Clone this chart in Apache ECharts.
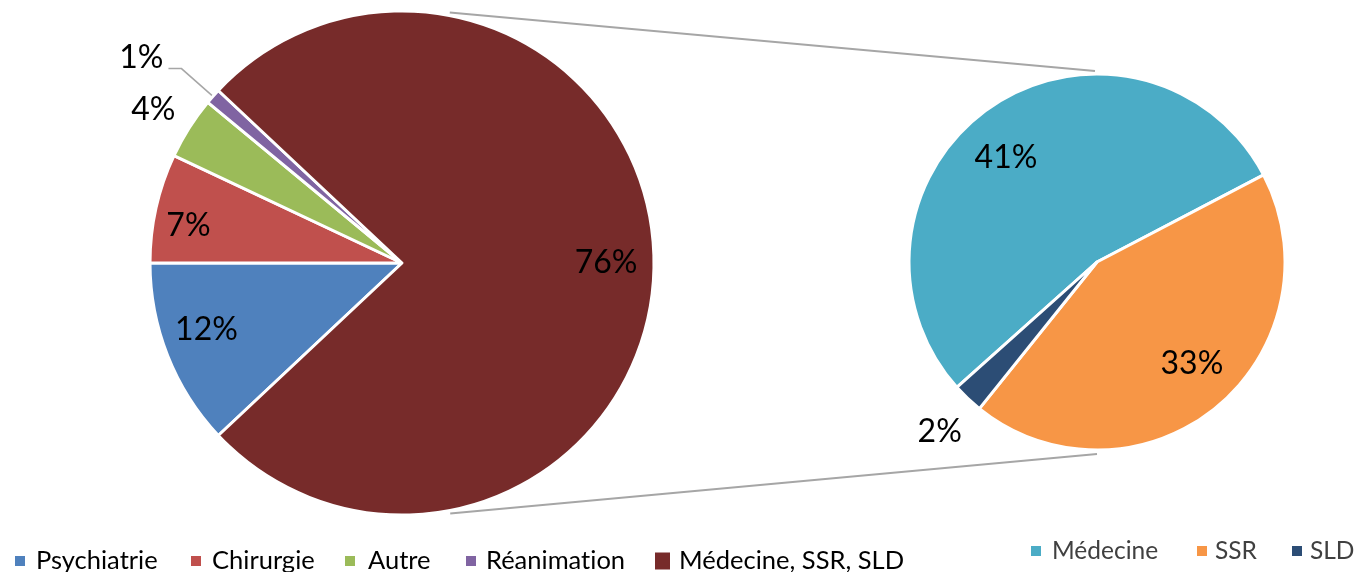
<!DOCTYPE html>
<html>
<head>
<meta charset="utf-8">
<script src="https://cdn.jsdelivr.net/npm/echarts@6/dist/echarts.min.js"></script>
<style>
  html, body { margin: 0; padding: 0; background: #fff; }
  #chart { width: 1355px; height: 572px; }
</style>
</head>
<body>
<div id="chart"></div>
<script>
// Main pie: share of each department (%)
const mainCategories = ['Psychiatrie', 'Chirurgie', 'Autre', 'Réanimation', 'Médecine, SSR, SLD'];
const mainValues = [12, 7, 4, 1, 76];
const mainColors = ['#4F81BD', '#C0504D', '#9BBB59', '#8064A2', '#772B2A'];

// Secondary pie: breakdown of "Médecine, SSR, SLD" (%)
const subCategories = ['Médecine', 'SSR', 'SLD'];
const subValues = [41, 33, 2];
const subColors = ['#4BACC6', '#F79646', '#2C4D75'];

const FONT = 'Lato, "Open Sans", sans-serif';

// Layout of the two pies
const main = { cx: 402, cy: 263, r: 252, start: 180 + mainValues[0] / 100 * 360 };
const sub = { cx: 1097, cy: 262, r: 188, start: 221.8 };

// Label placement per slice: [fraction of radius, angle tweak in degrees]; null = default outside label
const mainLabelPlace = [[0.82, -2.7], [0.86, 2.8], [1.16, 0.7], null, [0.81, 0]];
const subLabelPlace = [[0.735, 6.5], [0.74, 3.6], [1.23, 0.6]];

function polarLabels(pie, values, place) {
  const total = values.reduce((a, b) => a + b, 0);
  return function (params) {
    const i = params.dataIndex;
    const p = place[i];
    if (!p) return { dy: -11 };   // outside label: lift the text above its leader line
    let acc = 0;
    for (let k = 0; k < i; k++) acc += values[k];
    const mid = pie.start - (acc + values[i] / 2) / total * 360 + p[1];
    const a = mid * Math.PI / 180;
    return {
      x: pie.cx + p[0] * pie.r * Math.cos(a),
      y: pie.cy - p[0] * pie.r * Math.sin(a),
      align: 'center',
      verticalAlign: 'middle'
    };
  };
}

function pt(pie, angleDeg, extra) {
  const a = angleDeg * Math.PI / 180;
  return [pie.cx + (pie.r + extra) * Math.cos(a), pie.cy - (pie.r + extra) * Math.sin(a)];
}

const chart = echarts.init(document.getElementById('chart'), null, { renderer: 'canvas' });

const labelBase = { show: true, position: 'inside', formatter: p => p.value + '%',
  fontFamily: FONT, fontSize: 32, color: '#000' };

// Connector lines between the two pies
const topA = pt(main, 79.2, 3), topB = pt(sub, 90.6, 3);
const botA = pt(main, -79.1, 3), botB = pt(sub, -90, 4);
const connStyle = { stroke: '#A6A6A6', lineWidth: 2 };

// Keep "t" and "i" as separate glyphs (no ligature)
const noLig = name => name.replace(/ti/g, 't\u200Ci');

// Legend entries, one component per entry
const mainLegendX = [15, 191, 345, 466, 655];
const mainLegendPad = [6, 6, 8, 5, 4];
const mainLegendIcon = [[10, 10], [10, 10], [10, 10], [10, 10], [15, 17]];
const subLegendX = [1031, 1197, 1292];
const subLegendPad = [6, 3, 3];

const legends = [];
mainCategories.forEach((name, i) => legends.push({
  data: [name], left: mainLegendX[i], top: 547, padding: 0,
  icon: 'rect', itemWidth: mainLegendIcon[i][0], itemHeight: mainLegendIcon[i][1], selectedMode: false,
  itemStyle: { borderWidth: 0 }, formatter: noLig,
  textStyle: { fontFamily: FONT, fontSize: 25.5, color: '#000', lineHeight: 28, padding: [0, 0, 0, mainLegendPad[i]] }
}));
subCategories.forEach((name, i) => legends.push({
  data: [name], left: subLegendX[i], top: 538, padding: 0,
  icon: 'rect', itemWidth: 10, itemHeight: 10, selectedMode: false,
  itemStyle: { borderWidth: 0 },
  textStyle: { fontFamily: FONT, fontSize: 24.5, color: '#404040', lineHeight: 26, padding: [0, 0, 0, subLegendPad[i]] }
}));

chart.setOption({
  animation: false,
  backgroundColor: '#fff',
  legend: legends,
  graphic: [
    { type: 'line', shape: { x1: topA[0], y1: topA[1], x2: topB[0], y2: topB[1] }, style: connStyle, silent: true },
    { type: 'line', shape: { x1: botA[0], y1: botA[1], x2: botB[0], y2: botB[1] }, style: connStyle, silent: true }
  ],
  series: [
    {
      type: 'pie',
      center: [main.cx, main.cy],
      radius: main.r,
      startAngle: main.start,
      clockwise: true,
      avoidLabelOverlap: false,
      silent: true,
      itemStyle: { borderColor: '#fff', borderWidth: 3 },
      label: labelBase,
      labelLine: { show: false },
      labelLayout: polarLabels(main, mainValues, mainLabelPlace),
      data: mainCategories.map((name, i) => {
        const d = { name, value: mainValues[i], itemStyle: { color: mainColors[i] } };
        if (!mainLabelPlace[i]) {
          d.label = { position: 'outside', distanceToLabelLine: 5 };
          d.labelLine = { show: true, length: 42, length2: 13,
            lineStyle: { color: '#A6A6A6', width: 1.5 } };
        }
        return d;
      })
    },
    {
      type: 'pie',
      center: [sub.cx, sub.cy],
      radius: sub.r,
      startAngle: sub.start,
      clockwise: true,
      avoidLabelOverlap: false,
      silent: true,
      itemStyle: { borderColor: '#fff', borderWidth: 3 },
      label: labelBase,
      labelLine: { show: false },
      labelLayout: polarLabels(sub, subValues, subLabelPlace),
      data: subCategories.map((name, i) => ({ name, value: subValues[i], itemStyle: { color: subColors[i] } }))
    }
  ]
});
</script>
</body>
</html>
